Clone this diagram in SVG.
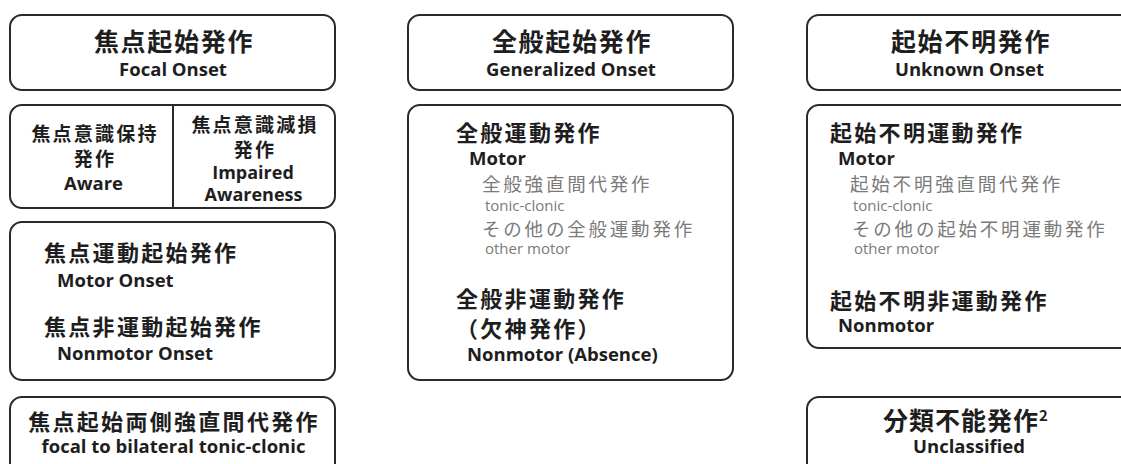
<svg xmlns="http://www.w3.org/2000/svg" width="1121" height="464" viewBox="0 0 1121 464">
<style>
.box{fill:#fff;stroke:#2a2a2a;stroke-width:2}
.jt{font-family:"Noto Sans CJK JP","Noto Sans CJK SC",sans-serif;font-weight:700;font-size:25px;letter-spacing:1.7px;fill:#1e1e1e}
.js{font-family:"Noto Sans CJK JP","Noto Sans CJK SC",sans-serif;font-weight:700;font-size:22px;letter-spacing:2.3px;fill:#1e1e1e}
.ja{font-family:"Noto Sans CJK JP","Noto Sans CJK SC",sans-serif;font-weight:700;font-size:19px;letter-spacing:2.2px;fill:#1e1e1e}
.jg{font-family:"Noto Sans CJK JP","Noto Sans CJK SC",sans-serif;font-weight:400;font-size:18.5px;letter-spacing:2.8px;fill:#7a7a7a}
.en{font-family:"Open Sans","Liberation Sans",sans-serif;font-weight:700;font-size:18.5px;fill:#1e1e1e}
.eg{font-family:"Open Sans","Liberation Sans",sans-serif;font-weight:400;font-size:15px;fill:#7a7a7a}
.c{text-anchor:middle}
</style>
<rect width="1121" height="464" fill="#fff"/>
<g id="focal-onset">
<rect class="box" x="10" y="15" width="325" height="75" rx="12"/>
<text class="jt c" x="174" y="51">焦点起始発作</text>
<text class="en c" x="173" y="76">Focal Onset</text>
</g>
<g id="focal-awareness">
<rect class="box" x="10" y="105" width="325" height="103" rx="12"/>
<line x1="173" y1="105" x2="173" y2="208" stroke="#2a2a2a" stroke-width="2"/>
<text class="ja c" x="95" y="141">焦点意識保持</text>
<text class="ja c" x="95" y="166">発作</text>
<text class="en c" x="93.5" y="190">Aware</text>
<text class="ja c" x="255" y="131.5">焦点意識減損</text>
<text class="ja c" x="255" y="156.5">発作</text>
<text class="en c" x="253" y="178.5" style="font-size:18px">Impaired</text>
<text class="en c" x="253.5" y="200.5" style="font-size:18px">Awareness</text>
</g>
<g id="focal-motor">
<rect class="box" x="10" y="222" width="325" height="158" rx="12"/>
<text class="js" x="44" y="260.5">焦点運動起始発作</text>
<text class="en" x="57" y="287">Motor Onset</text>
<text class="js" x="44" y="334.5">焦点非運動起始発作</text>
<text class="en" x="57" y="360">Nonmotor Onset</text>
</g>
<g id="focal-bilateral">
<rect class="box" x="10" y="397" width="325" height="80" rx="12"/>
<text class="js c" x="174" y="429.5">焦点起始両側強直間代発作</text>
<text class="en c" x="173.5" y="452.5">focal to bilateral tonic-clonic</text>
</g>
<g id="generalized-onset">
<rect class="box" x="408" y="15" width="325" height="75" rx="12"/>
<text class="jt c" x="572" y="51">全般起始発作</text>
<text class="en c" x="571" y="76">Generalized Onset</text>
</g>
<g id="generalized-types">
<rect class="box" x="408" y="105" width="325" height="275" rx="12"/>
<text class="js" x="456" y="140.5">全般運動発作</text>
<text class="en" x="469" y="165">Motor</text>
<text class="jg" x="482" y="190.5">全般強直間代発作</text>
<text class="eg" x="485" y="210.5">tonic-clonic</text>
<text class="jg" x="482" y="235.5">その他の全般運動発作</text>
<text class="eg" x="485" y="254">other motor</text>
<text class="js" x="456" y="306.5">全般非運動発作</text>
<text class="js" x="456" y="336.5">（欠神発作）</text>
<text class="en" x="467" y="361">Nonmotor (Absence)</text>
</g>
<g id="unknown-onset">
<rect class="box" x="807" y="15" width="330" height="75" rx="12"/>
<text class="jt c" x="971" y="51">起始不明発作</text>
<text class="en c" x="969.5" y="76">Unknown Onset</text>
</g>
<g id="unknown-types">
<rect class="box" x="807" y="105" width="330" height="243" rx="12"/>
<text class="js" x="830" y="140.5">起始不明運動発作</text>
<text class="en" x="838" y="165">Motor</text>
<text class="jg" x="850" y="190.5">起始不明強直間代発作</text>
<text class="eg" x="853" y="210.5">tonic-clonic</text>
<text class="jg" x="852" y="236">その他の起始不明運動発作</text>
<text class="eg" x="854" y="254">other motor</text>
<text class="js" x="830" y="308.5">起始不明非運動発作</text>
<text class="en" x="838" y="332">Nonmotor</text>
</g>
<g id="unclassified">
<rect class="box" x="807" y="397" width="330" height="80" rx="12"/>
<text class="jt" x="883" y="429.5" style="letter-spacing:1px">分類不能発作<tspan font-size="15" dy="-9" style="letter-spacing:0">2</tspan></text>
<text class="en c" x="969" y="452.5">Unclassified</text>
</g>
<g id="connectors"/>
</svg>
